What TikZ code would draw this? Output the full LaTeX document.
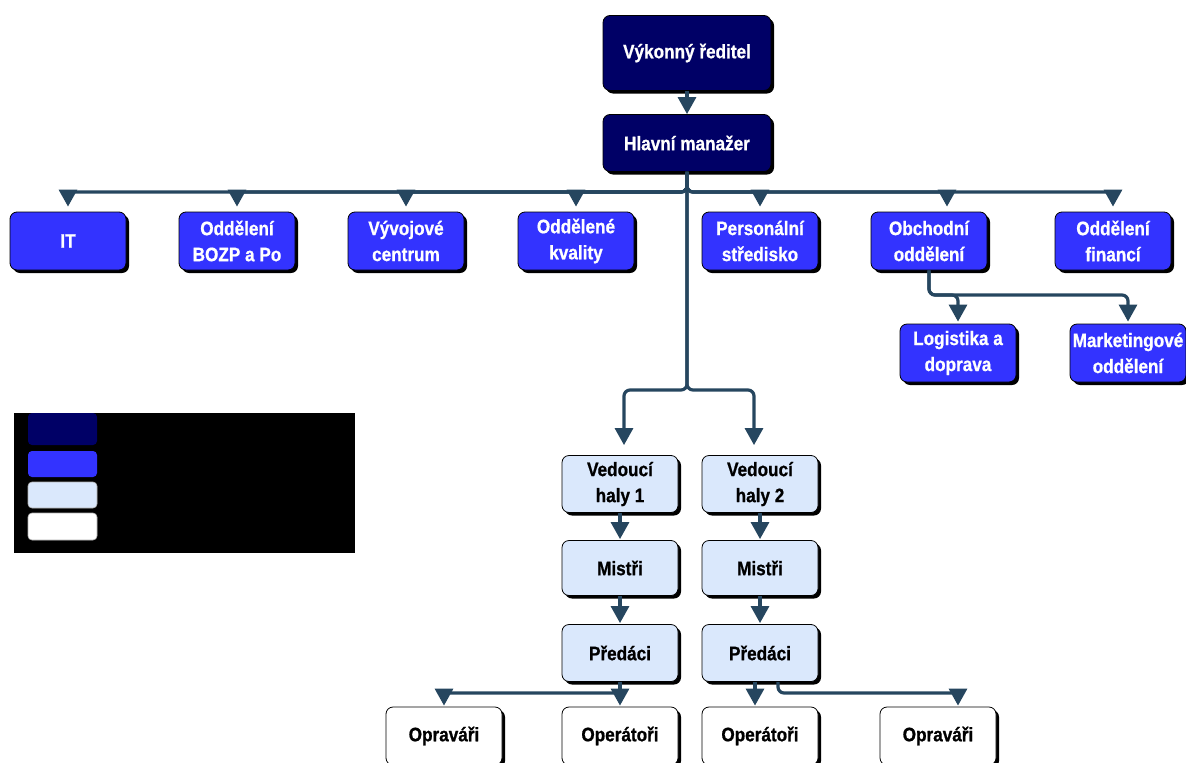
\documentclass[tikz,border=0pt]{standalone}
\usepackage{fontspec}
\setmainfont{Liberation Sans}
\newfontfamily\boxfont[FakeStretch=0.88, FakeBold=0.8, UprightFont={Liberation Sans Bold}, BoldFont={Liberation Sans Bold}]{Liberation Sans}
\usetikzlibrary{arrows.meta,shadows,calc}
\definecolor{navy}{RGB}{0,0,102}
\definecolor{bblue}{RGB}{51,51,255}
\definecolor{lblue}{RGB}{218,232,252}
\definecolor{conn}{RGB}{38,70,95}
\begin{document}
\begin{tikzpicture}[x=1pt,y=-1pt,
  box/.style={draw=black, line width=0.8pt, rounded corners=7pt,
    minimum width=116pt, minimum height=58pt, align=center, inner sep=2pt,
    font=\boxfont\fontsize{19.5}{26}\selectfont,
    drop shadow={shadow xshift=3pt, shadow yshift=-3pt, fill=black, opacity=1}},
  topbox/.style={box, fill=navy, text=white, minimum width=168pt},
  midbox/.style={box, fill=bblue, text=white},
  lightbox/.style={box, fill=lblue, text=black},
  whitebox/.style={box, fill=white, text=black},
  swatch/.style={rounded corners=4pt, minimum width=69pt, line width=0.6pt},
  arr/.style={draw=conn, line width=3.2pt, rounded corners=6pt,
    -{Triangle[width=18pt,length=17pt]}, shorten >=3pt},
  ln/.style={draw=conn, line width=3.2pt, rounded corners=6pt}
]
\useasboundingbox (0,0) rectangle (1186,763);

% top
\node[topbox, minimum height=75pt] (ved) at (687,53) {Výkonný ředitel};
\node[topbox, minimum height=57pt] (hm) at (687,143) {Hlavní manažer};

% row 1
\node[midbox] (it)   at (68,241)   {IT};
\node[midbox] (bozp) at (237,241)  {Oddělení\\BOZP a Po};
\node[midbox] (vyv)  at (406,241)  {Vývojové\\centrum};
\node[midbox] (kval) at (576,241)  {Oddělené\\kvality};
\node[midbox] (pers) at (760,241)  {Personální\\středisko};
\node[midbox] (obch) at (929,241)  {Obchodní\\oddělení};
\node[midbox] (fin)  at (1113,241) {Oddělení\\financí};

% row 2 right
\node[midbox] (log) at (958,353)  {Logistika a\\doprava};
\node[midbox] (mkt) at (1128,353) {Marketingové\\oddělení};

% halls
\node[lightbox, minimum height=57pt] (vh1) at (620,484) {Vedoucí\\haly 1};
\node[lightbox, minimum height=57pt] (vh2) at (760,484) {Vedoucí\\haly 2};
\node[lightbox, minimum height=55pt] (m1) at (620,568) {Mistři};
\node[lightbox, minimum height=55pt] (m2) at (760,568) {Mistři};
\node[lightbox, minimum height=57pt] (p1) at (620,653) {Předáci};
\node[lightbox, minimum height=57pt] (p2) at (760,653) {Předáci};

% bottom
\node[whitebox] (or1) at (444,736) {Opraváři};
\node[whitebox] (op1) at (620,736) {Operátoři};
\node[whitebox] (op2) at (760,736) {Operátoři};
\node[whitebox] (or2) at (938,736) {Opraváři};

% legend
\node[fill=black, minimum width=341pt, minimum height=140pt, inner sep=0pt] (leg) at (184.5,483) {};
\node[swatch, fill=navy, minimum height=32pt] (s1) at (62.5,429) {};
\node[swatch, fill=bblue, minimum height=26pt] (s2) at (62.5,464) {};
\node[swatch, fill=lblue, draw=gray!60, minimum height=26pt] (s3) at (62.5,495) {};
\node[swatch, fill=white, draw=gray!60, minimum height=27pt] (s4) at (62.5,526.5) {};

% connectors
\coordinate (bus) at (0,192);
\coordinate (split) at (0,390);
\coordinate (obus) at (0,295);
\coordinate (bbus) at (0,693);

\draw[arr, shorten >=0pt] (ved.south) -- (hm.north);
\foreach \n in {it,bozp,vyv,kval,pers,fin}
  \draw[arr, shorten >=5pt] (hm.south) -- (hm.south |- bus) -| (\n.north);
\draw[arr, shorten >=5pt] (hm.south) -- (hm.south |- bus) -| ([xshift=18pt]obch.north);

\draw[arr, shorten >=10pt] (hm.south) -- (hm.south |- split) -| ([xshift=4pt]vh1.north);
\draw[arr, shorten >=10pt] (hm.south) -- (hm.south |- split) -| ([xshift=-6pt]vh2.north);

\draw[arr, shorten >=2pt] (obch.south) -- (obch.south |- obus) -| (log.north);
\draw[arr, shorten >=2pt] (obch.south) -- (obch.south |- obus) -| (mkt.north);

\draw[arr, shorten >=1pt] (vh1.south) -- (m1.north);
\draw[arr, shorten >=1pt] (vh2.south) -- (m2.north);
\draw[arr, shorten >=1pt] (m1.south) -- (p1.north);
\draw[arr, shorten >=1pt] (m2.south) -- (p2.north);

\draw[arr, shorten >=1pt] (p1.south) -- (op1.north);
\draw[arr, shorten >=1pt] (p1.south) -- (p1.south |- bbus) -| (or1.north);
\draw[arr, shorten >=1pt] ([xshift=-5pt]p2.south) -- ([xshift=-5pt]op2.north);
\draw[arr, shorten >=1pt] ([xshift=18pt]p2.south) -- ([xshift=18pt]p2.south |- bbus) -| ([xshift=20pt]or2.north);
\end{tikzpicture}
\end{document}
